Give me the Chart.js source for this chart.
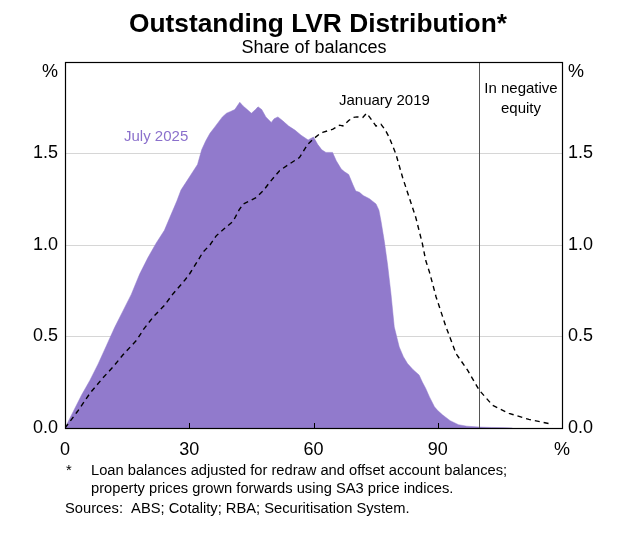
<!DOCTYPE html>
<html><head><meta charset="utf-8">
<script src="https://cdn.jsdelivr.net/npm/chart.js@4"></script>
<style>html,body{margin:0;padding:0;background:#fff;}#wrap{width:635px;height:539px;}</style>
</head><body><div id="wrap"><canvas id="c" width="635" height="539"></canvas></div>
<script>
// ---- Data ----
const july2025LVR = [0,2,4,6,8,10,12,14,16,18,20,22,24,25.3,27,28,30,32,33,34,35,36,37,38,39,40,41,42.2,43,44,45,46,46.6,47.5,48.5,49.8,50.5,51.4,52.5,54,55.5,57,58.7,60,61,62,63,64.6,65.5,66.7,67.5,68.5,69.5,70.2,71.1,72,73.5,75.1,75.8,76.3,77.1,77.9,78.7,79.5,80.7,81.7,82.7,84,85.5,86.3,87.1,88,89.2,90,91.2,93,95,97,100,103,106,108];
const july2025Share = [0,0.09,0.18,0.26,0.35,0.45,0.55,0.64,0.73,0.84,0.93,1.01,1.08,1.15,1.24,1.30,1.37,1.44,1.52,1.57,1.61,1.64,1.67,1.70,1.72,1.73,1.74,1.78,1.76,1.74,1.72,1.74,1.755,1.74,1.70,1.67,1.69,1.70,1.68,1.65,1.628,1.60,1.574,1.59,1.55,1.52,1.506,1.506,1.46,1.415,1.40,1.385,1.33,1.295,1.288,1.27,1.253,1.224,1.19,1.13,1.02,0.89,0.734,0.552,0.443,0.39,0.352,0.32,0.289,0.25,0.216,0.17,0.116,0.095,0.071,0.04,0.018,0.01,0.005,0.003,0.002,0];
const jan2019LVR = [0,3,6,9,11.6,14,17.3,19,21.3,24,26.1,28.9,30.1,32.1,33.3,35,36.5,38.5,40.6,42,43,44.5,46.2,48,49.4,51.8,54,56.6,57.5,58.6,60,61.4,62.2,64.7,66.3,67.1,68.5,69.5,70.5,71.9,72.8,73.5,75.1,76.3,77.3,78.3,79.9,81.5,83.1,84.7,86.3,87.1,88,89.6,92,94.4,97.2,100,103.2,107.2,112,117.7];
const jan2019Share = [0,0.09,0.189,0.27,0.334,0.40,0.48,0.54,0.607,0.67,0.734,0.807,0.843,0.915,0.961,1.0,1.05,1.09,1.13,1.19,1.224,1.24,1.26,1.30,1.342,1.406,1.44,1.478,1.51,1.55,1.58,1.606,1.615,1.633,1.655,1.651,1.68,1.697,1.70,1.697,1.72,1.70,1.65,1.66,1.63,1.587,1.497,1.37,1.26,1.15,1.006,0.915,0.852,0.716,0.552,0.407,0.316,0.207,0.125,0.08,0.047,0.02];
const xTickValues = [0,30,60,90,120];
const yTickValues = [0,0.5,1,1.5,2];
const negativeEquityLVR = 100;

const FONT = "Arial, 'Liberation Sans', Helvetica, sans-serif";
const PURPLE = 'rgb(145,122,204)';

const toPts = (xs, ys) => xs.map((x, i) => ({x: x, y: ys[i]}));

const decor = {
  id: 'decor',
  beforeDraw(chart) {
    const c = chart.ctx;
    c.save(); c.fillStyle = '#fff'; c.fillRect(0, 0, chart.width, chart.height); c.restore();
  },
  afterDatasetsDraw(chart) {
    const c = chart.ctx, a = chart.chartArea;
    const xs = chart.scales.x, ys = chart.scales.y;
    c.save();
    // negative equity line
    const xv = Math.round(xs.getPixelForValue(negativeEquityLVR)) + 0.5;
    c.strokeStyle = '#555'; c.lineWidth = 1;
    c.beginPath(); c.moveTo(xv, a.top); c.lineTo(xv, a.bottom); c.stroke();
    // box
    c.strokeStyle = '#000'; c.lineWidth = 1.2;
    c.strokeRect(Math.round(a.left) + 0.5, Math.round(a.top) + 0.5, Math.round(a.right - a.left), Math.round(a.bottom - a.top));
    // inner x ticks
    c.lineWidth = 1;
    xTickValues.slice(1, -1).forEach(v => {
      const px = Math.round(xs.getPixelForValue(v)) + 0.5;
      c.beginPath(); c.moveTo(px, a.bottom); c.lineTo(px, a.bottom - 5); c.stroke();
    });
    // unit labels
    c.fillStyle = '#000'; c.font = '18px ' + FONT; c.textBaseline = 'middle';
    const yTop = ys.getPixelForValue(2) + 10;
    c.textAlign = 'right'; c.fillText('%', a.left - 7, yTop);
    c.textAlign = 'left'; c.fillText('%', a.right + 6, yTop);
    // annotations
    c.textBaseline = 'alphabetic';
    c.font = '15px ' + FONT;
    c.fillStyle = 'rgb(139,112,204)'; c.textAlign = 'left';
    c.fillText('July 2025', xs.getPixelForValue(14.25), ys.getPixelForValue(1.566));
    c.fillStyle = '#000';
    c.fillText('January 2019', xs.getPixelForValue(66.15), ys.getPixelForValue(1.765));
    c.textAlign = 'center';
    c.fillText('In negative', xs.getPixelForValue(110.1), ys.getPixelForValue(1.829));
    c.fillText('equity', xs.getPixelForValue(110.1), ys.getPixelForValue(1.72));
    c.restore();
  },
  afterDraw(chart) {
    const c = chart.ctx;
    c.save();
    c.fillStyle = '#000'; c.textBaseline = 'alphabetic'; c.textAlign = 'center';
    c.font = 'bold 26.3px ' + FONT;
    c.fillText('Outstanding LVR Distribution*', 318, 32);
    c.font = '18px ' + FONT;
    c.fillText('Share of balances', 314, 53);
    c.textAlign = 'left';
    c.font = '14.7px ' + FONT;
    c.fillText('*', 66, 475);
    c.fillText('Loan balances adjusted for redraw and offset account balances;', 91, 475);
    c.fillText('property prices grown forwards using SA3 price indices.', 91, 493);
    c.fillText('Sources:  ABS; Cotality; RBA; Securitisation System.', 65, 513);
    c.restore();
  }
};

const yTickCfg = {
  font: {size: 18, family: FONT}, color: '#000',
  callback: v => (v === 2 ? '' : v.toFixed(1))
};

new Chart(document.getElementById('c'), {
  type: 'line',
  data: {
    datasets: [
      {
        label: 'January 2019',
        data: toPts(jan2019LVR, jan2019Share),
        borderColor: '#000', borderWidth: 1.4, borderDash: [5, 4],
        pointRadius: 0, fill: false, tension: 0
      },
      {
        label: 'July 2025',
        data: toPts(july2025LVR, july2025Share),
        borderColor: PURPLE, borderWidth: 0.5, backgroundColor: PURPLE,
        pointRadius: 0, fill: 'origin', tension: 0
      }
    ]
  },
  options: {
    responsive: false, animation: false, devicePixelRatio: 1,
    layout: {padding: {top: 62, bottom: 81, left: 0, right: 0}},
    plugins: {legend: {display: false}, tooltip: {enabled: false}, title: {display: false}},
    scales: {
      x: {
        type: 'linear', position: 'bottom', min: 0, max: 120,
        afterBuildTicks: s => { s.ticks = xTickValues.map(v => ({value: v})); },
        afterFit: s => { s.height = 30; },
        ticks: {font: {size: 18, family: FONT}, color: '#000', padding: 11, maxRotation: 0, autoSkip: false,
                callback: v => (v === 120 ? '%' : String(v))},
        grid: {display: false, drawTicks: false},
        border: {display: false}
      },
      y: {
        position: 'left', min: 0, max: 2,
        afterBuildTicks: s => { s.ticks = yTickValues.map(v => ({value: v})); },
        afterFit: s => { s.width = 65; },
        ticks: Object.assign({padding: 7}, yTickCfg),
        grid: {drawTicks: false, lineWidth: 1,
               color: ctx => (ctx.tick && (ctx.tick.value === 0 || ctx.tick.value === 2)) ? 'rgba(0,0,0,0)' : '#d6d6d6'},
        border: {display: false}
      },
      y2: {
        position: 'right', min: 0, max: 2,
        afterBuildTicks: s => { s.ticks = yTickValues.map(v => ({value: v})); },
        afterFit: s => { s.width = 73; },
        ticks: Object.assign({padding: 6}, yTickCfg),
        grid: {display: false, drawTicks: false},
        border: {display: false}
      }
    }
  },
  plugins: [decor]
});
</script>
</body></html>
